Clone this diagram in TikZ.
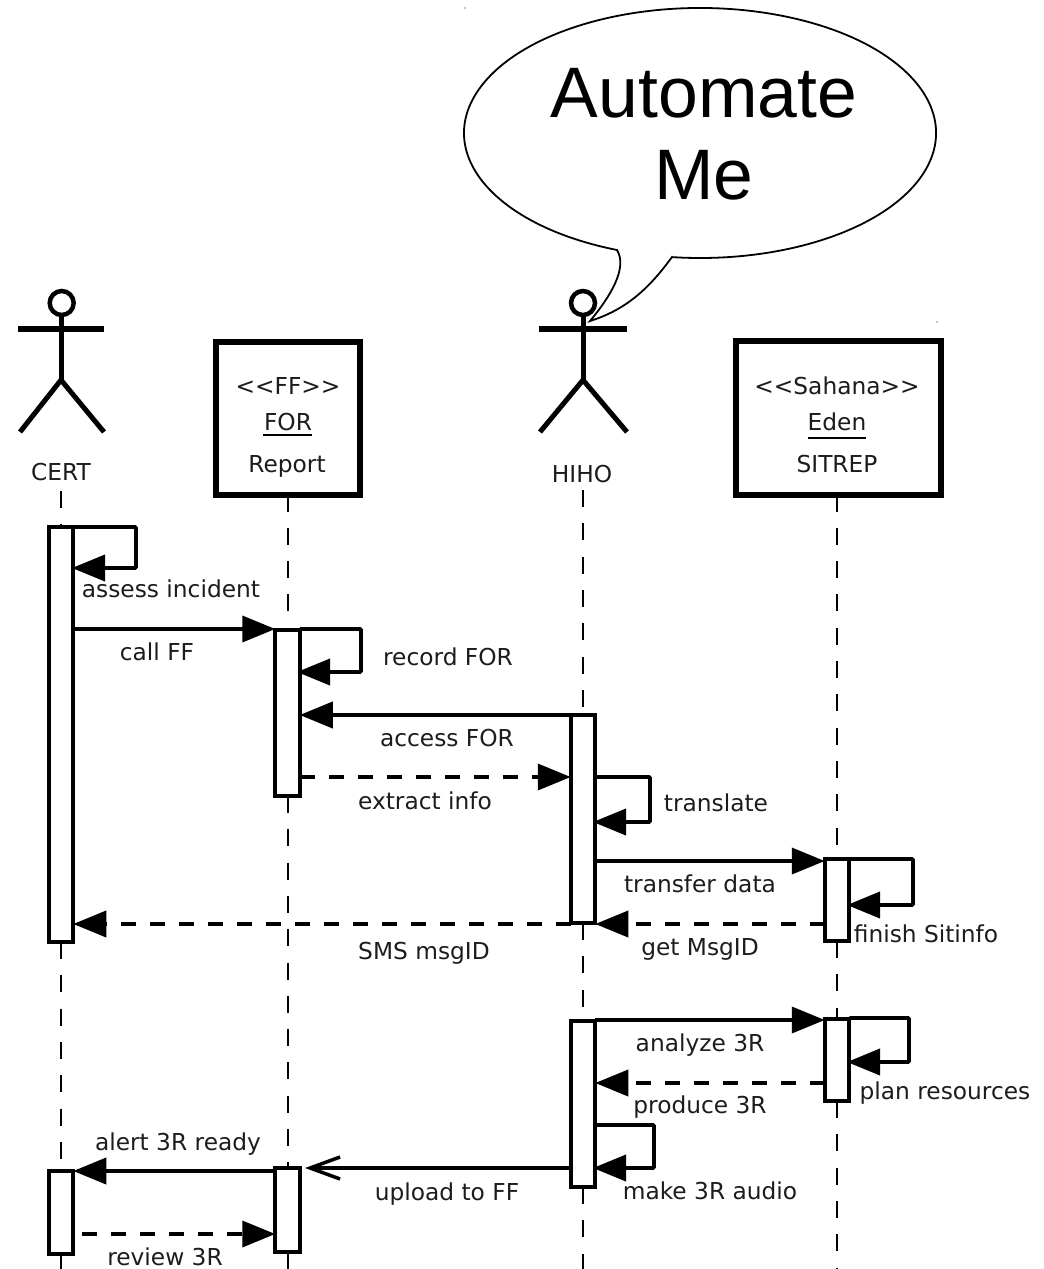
\documentclass[tikz,border=0pt]{standalone}
\usepackage{fontspec}
\setmainfont{DejaVu Sans}
\newfontfamily\calloutfont{Liberation Sans}
\usetikzlibrary{arrows.meta}
\definecolor{ink}{HTML}{1C1C1C}
\tikzset{
  lifeline/.style={line width=2pt,dash pattern=on 17pt off 16.3pt,black},
  actbox/.style={draw,fill=white,line width=4pt,inner sep=0pt,outer sep=0pt,minimum width=24.5pt},
  objbox/.style={draw,fill=white,line width=6pt,inner sep=0pt,outer sep=0pt},
  limb/.style={line width=5pt,black},
  head/.style={draw,circle,line width=4.5pt,minimum size=24pt,inner sep=0pt,outer sep=0pt},
  msg/.style={line width=3.8pt,-{Triangle[length=33pt,width=26pt]}},
  rmsg/.style={msg,dash pattern=on 15pt off 14pt},
  selfmsg/.style={msg,rounded corners=1pt},
  openmsg/.style={line width=3.8pt,-{Straight Barb[length=30pt,width=22pt,line width=3.5pt]}},
  lbl/.style={anchor=base,inner sep=0pt,text=ink,font=\fontsize{23.3}{23.3}\selectfont},
  bigl/.style={anchor=base,inner sep=0pt,text=black,font=\calloutfont\fontsize{71.5}{71.5}\selectfont},
  ul/.style={line width=2pt,black},
}
\newcommand{\act}[4]{\node[actbox,minimum height={(#4-#3)*1pt}] (#1) at (#2,{(#3+#4)/2}) {};}
\begin{document}
\begin{tikzpicture}[x=1pt,y=-1pt]
\useasboundingbox (0,0) rectangle (1044,1269);
% object boxes
\node[objbox,minimum width=144pt,minimum height=153pt] (forbox) at (287.8,418) {};
\node[objbox,minimum width=205pt,minimum height=154pt] (edenbox) at (838.5,417.5) {};
% activations' positions are needed by the lifelines
\act{aone}{61}{527}{942}
\act{atwo}{287.5}{630}{796}
\act{athree}{583}{715}{923}
\act{afour}{837}{859}{941}
\act{afive}{583}{1021}{1187}
\act{asix}{837}{1019}{1101}
\act{aseven}{61}{1171}{1254}
\act{aeight}{287.5}{1168}{1252}
% lifeline start / end points
\coordinate (certtop) at (61,491);
\coordinate (certend) at (61,1269);
\coordinate (hihotop) at (583,490);
\coordinate (hihoend) at (583,1269);
\coordinate (forend) at (287.5,1269);
\coordinate (edenend) at (837,1269);
\draw[lifeline] (certtop) -- (aone.north);
\draw[lifeline] (aone.south) -- (aseven.north);
\draw[lifeline] (aseven.south) -- (certend);
\draw[lifeline] (atwo.north |- forbox.south) -- (atwo.north);
\draw[lifeline] (atwo.south) -- (aeight.north);
\draw[lifeline] (aeight.south) -- (forend);
\draw[lifeline] (hihotop) -- (athree.north);
\draw[lifeline] (athree.south) -- (afive.north);
\draw[lifeline] (afive.south) -- (hihoend);
\draw[lifeline] (afour.north |- edenbox.south) -- (afour.north);
\draw[lifeline] (afour.south) -- (asix.north);
\draw[lifeline] (asix.south) -- (edenend);
% actors
\node[head] (certhead) at (61.7,303) {};
\coordinate (certhip) at (61,380);
\coordinate (certla) at (18,329); \coordinate (certra) at (104,329);
\coordinate (certll) at (20,432); \coordinate (certrl) at (104,432);
\draw[limb] (certhead.south -| certhip) -- (certhip);
\draw[line width=6pt] (certla) -- (certra);
\draw[limb] (certll) -- (certhip) -- (certrl);
\node[head] (hihohead) at (583,303) {};
\coordinate (hihohip) at (583,380);
\coordinate (hihola) at (539,329); \coordinate (hihora) at (627,329);
\coordinate (hiholl) at (540,432); \coordinate (hihorl) at (627,432);
\draw[limb] (hihohead.south) -- (hihohip);
\draw[line width=6pt] (hihola) -- (hihora);
\draw[limb] (hiholl) -- (hihohip) -- (hihorl);
% messages
\draw[selfmsg] (aone.east |- 0,527) -| (136,568) -- (72,568);
\draw[msg] (aone.east |- 0,629) -- (atwo.west |- 0,629);
\draw[selfmsg] (atwo.east |- 0,629) -| (361,672) -- (297,672);
\draw[msg] (athree.west |- 0,715) -- (atwo.east |- 0,715);
\draw[rmsg] (atwo.east |- 0,777) -- (athree.west |- 0,777);
\draw[selfmsg] (athree.east |- 0,777) -| (650,822) -- (593,822);
\draw[msg] (athree.east |- 0,861) -- (afour.west |- 0,861);
\draw[selfmsg] (afour.east |- 0,859) -| (913,905) -- (847,905);
\draw[rmsg] (afour.west |- 0,924) -- (athree.east |- 0,924);
\draw[rmsg] (athree.west |- 0,924) -- (aone.east |- 0,924);
\draw[msg] (afive.east |- 0,1020) -- (asix.west |- 0,1020);
\draw[selfmsg] (asix.east |- 0,1018) -| (909,1062) -- (847,1062);
\draw[rmsg] (asix.west |- 0,1083) -- (afive.east |- 0,1083);
\draw[selfmsg] (afive.east |- 0,1125) -| (654,1168) -- (593,1168);
\draw[openmsg] (afive.west |- 0,1168) -- (305,1168);
\draw[msg] (aeight.west |- 0,1171) -- (aseven.east |- 0,1171);
\draw[rmsg] (82,1234) -- (aeight.west |- 0,1234);
% object box labels
\node[lbl] (forst) at (288,394) {<{}<{}FF>{}>};
\node[lbl] (forname) at (288,430) {FOR};
\node[lbl] (forrep) at (287,472) {Report};
\coordinate (forula) at (263,435); \coordinate (forulb) at (312,435);
\draw[ul] (forula) -- (forulb);
\node[lbl] (edenst) at (837,394) {<{}<{}Sahana>{}>};
\node[lbl] (edenname) at (837,430) {Eden};
\node[lbl] (edensit) at (837,472) {SITREP};
\coordinate (edenula) at (808,438); \coordinate (edenulb) at (866,438);
\draw[ul] (edenula) -- (edenulb);
\node[lbl] (certl) at (61,480) {CERT};
\node[lbl] (hihol) at (582,482) {HIHO};
% message labels
\node[lbl] (m1) at (171,597) {assess incident};
\node[lbl] (m2) at (157,660) {call FF};
\node[lbl] (m3) at (448,665) {record FOR};
\node[lbl] (m4) at (447,746) {access FOR};
\node[lbl] (m5) at (425,809) {extract info};
\node[lbl] (m6) at (716,811) {translate};
\node[lbl] (m7) at (700,892) {transfer data};
\node[lbl] (m8) at (926,942) {finish Sitinfo};
\node[lbl] (m9) at (424,959) {SMS msgID};
\node[lbl] (m10) at (700,955) {get MsgID};
\node[lbl] (m11) at (700,1051) {analyze 3R};
\node[lbl] (m12) at (945,1099) {plan resources};
\node[lbl] (m13) at (700,1113) {produce 3R};
\node[lbl] (m14) at (178,1150) {alert 3R ready};
\node[lbl] (m15) at (447,1200) {upload to FF};
\node[lbl] (m16) at (710,1199) {make 3R audio};
\node[lbl] (m17) at (165,1265) {review 3R};
% speech bubble
\coordinate (bubl) at (617,250);
\coordinate (bubr) at (672,257);
\coordinate (bubtip) at (590,321);
\draw[line width=1.8pt,fill=white]
  (bubl) arc[start angle=249.4,end angle=-96.8,x radius=236pt,y radius=125pt]
  -- (bubr) .. controls (648,290) and (625,310) .. (bubtip)
  .. controls (610,297) and (628,268) .. (bubl) -- cycle;
\node[bigl] (autoa) at (704,117) {Automate};
\node[bigl] (autob) at (704,199) {Me};
% stray specks of the reference
\fill (465,8) circle (0.7pt);
\fill (937,322) circle (0.7pt);
\end{tikzpicture}
\end{document}
